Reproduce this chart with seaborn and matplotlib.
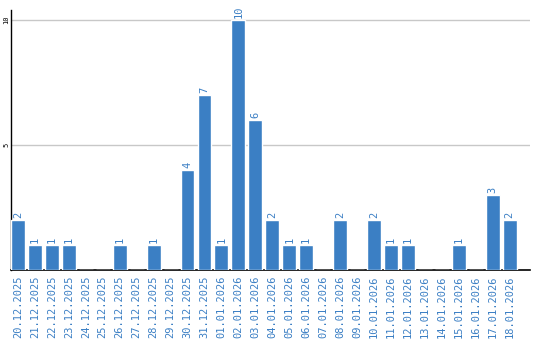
import matplotlib
matplotlib.use("Agg")
import matplotlib.pyplot as plt
import seaborn as sns
import pandas as pd

dates = ["20.12.2025", "21.12.2025", "22.12.2025", "23.12.2025", "24.12.2025",
         "25.12.2025", "26.12.2025", "27.12.2025", "28.12.2025", "29.12.2025",
         "30.12.2025", "31.12.2025", "01.01.2026", "02.01.2026", "03.01.2026",
         "04.01.2026", "05.01.2026", "06.01.2026", "07.01.2026", "08.01.2026",
         "09.01.2026", "10.01.2026", "11.01.2026", "12.01.2026", "13.01.2026",
         "14.01.2026", "15.01.2026", "16.01.2026", "17.01.2026", "18.01.2026"]
counts = [2, 1, 1, 1, 0, 0, 1, 0, 1, 0, 4, 7, 1, 10, 6, 2, 1, 1, 0, 2, 0, 2, 1, 1, 0, 0, 1, 0, 3, 2]

BLUE = "#3b7fc4"
sns.set_theme(style="white")
plt.rcParams['font.family'] = ['DejaVu Sans Mono', 'DejaVu Sans']

df = pd.DataFrame({"date": dates, "count": counts})
fig = plt.figure(figsize=(5.4, 3.4), dpi=100)
ax = fig.add_axes([11/540, 70/340, 519/540, 260/340])
sns.barplot(data=df, x="date", y="count", color=BLUE, saturation=1, width=0.82, ax=ax, zorder=3)

ax.set_xlim(-0.41, 30.2)
ax.set_ylim(0, 10.4)
ax.set_yticks([5, 10])
ax.set_yticklabels(["5", "10"], rotation=90, fontsize=5, va="center", color="black")
ax.tick_params(axis="y", length=0, pad=1)
ax.tick_params(axis="x", length=0, pad=4)
ax.set_xticks(range(len(dates)))
ax.set_xticklabels(dates, rotation=90, fontsize=7.5, color=BLUE)
ax.yaxis.grid(True, color="#c8c8c8", linewidth=1, zorder=0)
ax.set_axisbelow(True)
for s in ["top", "right"]:
    ax.spines[s].set_visible(False)
ax.spines["left"].set_color("black")
ax.spines["bottom"].set_color("black")
ax.spines["left"].set_linewidth(1)
ax.spines["bottom"].set_linewidth(1.2)
ax.set_xlabel("")
ax.set_ylabel("")

for i, v in enumerate(counts):
    if v > 0:
        ax.text(i, v + 0.08, str(v), rotation=90, ha="center", va="bottom",
                fontsize=7.5, color=BLUE)

fig.savefig("out.png", dpi=100)
